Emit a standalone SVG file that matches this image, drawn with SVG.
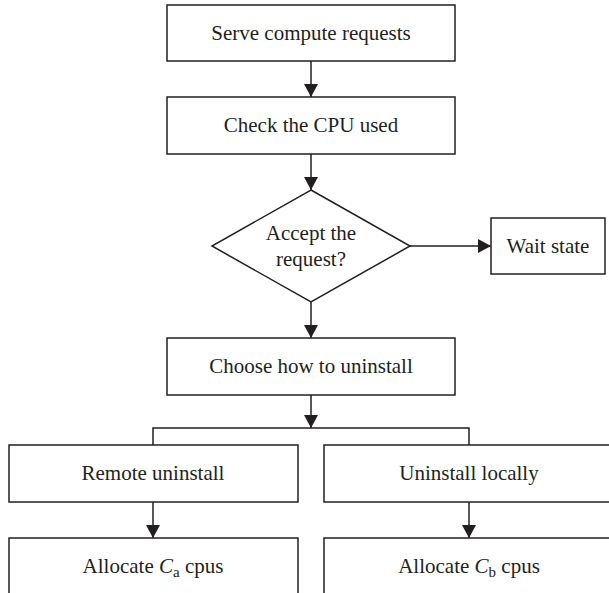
<svg xmlns="http://www.w3.org/2000/svg" width="609" height="593" viewBox="0 0 609 593">
<defs>
<marker id="ah" viewBox="0 0 13 14" refX="13" refY="7" markerWidth="13" markerHeight="14" markerUnits="userSpaceOnUse" orient="auto">
<path d="M0,0 L13,7 L0,14 Z" fill="#231f20"/>
</marker>
<style>
.box{fill:#fff;stroke:#231f20;stroke-width:1.5}
.lbl{font-family:"Liberation Serif","Times New Roman",serif;font-size:21px;fill:#231f20;text-anchor:middle}
.ln{fill:none;stroke:#231f20;stroke-width:1.5}
.arr{fill:none;stroke:#231f20;stroke-width:1.5;marker-end:url(#ah)}
</style>
</defs>
<rect width="609" height="593" fill="#fff"/>
<g id="connectors">
<line class="arr" x1="311" y1="61" x2="311" y2="97"/>
<line class="arr" x1="311" y1="154" x2="311" y2="190"/>
<line class="arr" x1="410" y1="246" x2="491" y2="246"/>
<line class="arr" x1="311" y1="302" x2="311" y2="338"/>
<line class="arr" x1="311" y1="395" x2="311" y2="428"/>
<polyline class="ln" points="153,445 153,428 469,428 469,445"/>
<line class="arr" x1="153" y1="502" x2="153" y2="538"/>
<line class="arr" x1="469" y1="502" x2="469" y2="538"/>
</g>
<g id="n1"><rect class="box" x="167" y="5" width="288" height="56"/><text class="lbl" x="311" y="40">Serve compute requests</text></g>
<g id="n2"><rect class="box" x="167" y="97" width="288" height="57"/><text class="lbl" x="311" y="132">Check the CPU used</text></g>
<g id="n3"><polygon class="box" points="311,190 410,246 311,302 212,246"/><text class="lbl" x="311" y="240">Accept the</text><text class="lbl" x="311" y="266">request?</text></g>
<g id="n4"><rect class="box" x="491" y="218" width="114" height="56"/><text class="lbl" x="548" y="253">Wait state</text></g>
<g id="n5"><rect class="box" x="167" y="338" width="288" height="57"/><text class="lbl" x="311" y="373">Choose how to uninstall</text></g>
<g id="n6"><rect class="box" x="9" y="445" width="289" height="57"/><text class="lbl" x="153" y="480">Remote uninstall</text></g>
<g id="n7"><rect class="box" x="324" y="445" width="300" height="57"/><text class="lbl" x="469" y="480">Uninstall locally</text></g>
<g id="n8"><rect class="box" x="9" y="538" width="289" height="70"/><text class="lbl" x="153" y="573">Allocate <tspan font-style="italic">C</tspan><tspan font-size="15" dy="4">a</tspan><tspan dy="-4"> cpus</tspan></text></g>
<g id="n9"><rect class="box" x="324" y="538" width="300" height="70"/><text class="lbl" x="469" y="573">Allocate <tspan font-style="italic">C</tspan><tspan font-size="15" dy="4">b</tspan><tspan dy="-4"> cpus</tspan></text></g>
</svg>
